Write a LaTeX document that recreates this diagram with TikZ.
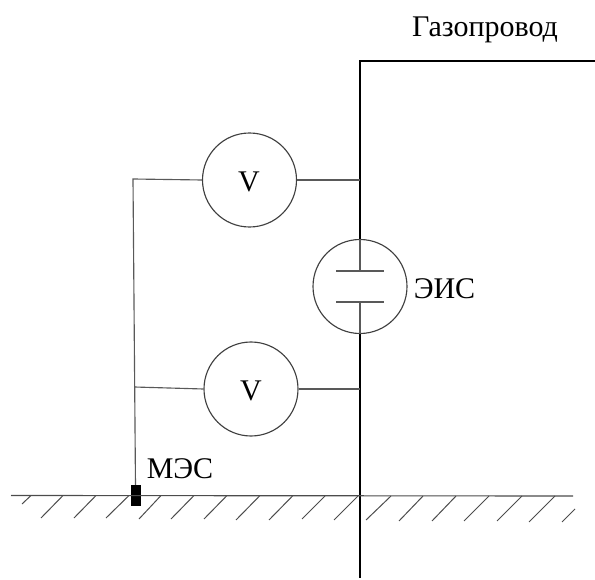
\documentclass[tikz,border=0pt]{standalone}
\usepackage{fontspec}
\setmainfont{Liberation Serif}
\tikzset{
  thinw/.style={draw=black!65,line width=0.85pt},
  pipew/.style={draw=black,line width=2.2pt},
  hatchw/.style={draw=black!70,line width=0.75pt},
  ring/.style={circle,draw=black!75,line width=0.85pt,minimum size=70.5pt,inner sep=0pt},
  lbl/.style={inner sep=0pt,font=\fontsize{22.5}{25}\selectfont},
}
\begin{document}
\begin{tikzpicture}[x=0.75pt,y=-0.75pt]
\useasboundingbox (0,0) rectangle (595,580);
\node[ring] (v1) at (249.5,180) {};
\node[ring] (v2) at (251,389) {};
\node[ring] (eis) at (360,286.5) {};
\node[lbl] at (249,182) {V};
\node[lbl] at (251,391) {V};
\node[lbl] at (444.5,288.5) {ЭИС};
\node[lbl] at (180,469) {МЭС};
\node[lbl] at (485,30) {Газопровод};
% pipe
\coordinate (pe) at (595,61);
\coordinate (pc) at (360,61);
\coordinate (pb) at (360,578);
\draw[pipew,line join=miter] (pe) -- (pc) -- (eis.north);
\draw[pipew] (eis.south) -- (pb);
% capacitor
\coordinate (p1l) at (336,271); \coordinate (p1r) at (384,271);
\coordinate (p2l) at (336,302); \coordinate (p2r) at (384,302);
\coordinate (p1m) at (360,271); \coordinate (p2m) at (360,302);
\draw[thinw] (eis.north) -- (p1m);
\draw[thinw] (eis.south) -- (p2m);
\draw[thinw] (p1l) -- (p1r);
\draw[thinw] (p2l) -- (p2r);
% wires
\coordinate (j1) at (133,179);
\coordinate (j2) at (134.3,387);
\coordinate (m) at (135.5,487);
\coordinate (r1) at (360,180);
\coordinate (r2) at (360,389);
\draw[thinw] (v1.west) -- (j1) -- (m);
\draw[thinw] (v2.west) -- (j2);
\draw[thinw] (v1.east) -- (r1);
\draw[thinw] (v2.east) -- (r2);
% electrode
\fill[black] (131,485) rectangle (140.5,506);
% ground
\draw[draw=black!70,line width=0.85pt] (11,495.5) -- (573,496);
\foreach \a/\b/\c/\d in {22/504/31/495.5,41/518/63/495.5,74/518/96/495.5,106/518/129/495.5,139/519/161/495.5,171/519/194/495.5,204/519/227/495.5,236/520/260/495.5,269/520/293/495.5,302/519/325/496,334/520/358/496,366/520/391/496,399/521/423/496,432/521/456/496,464/521/489/496,497/521/522/496,529/522/555/496,562/522/575/509}
  \draw[hatchw] (\a,\b) -- (\c,\d);
\end{tikzpicture}
\end{document}
